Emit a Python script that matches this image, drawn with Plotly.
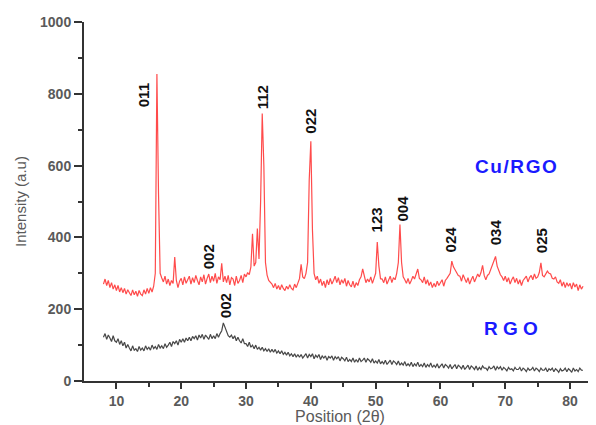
import numpy as np
import plotly.graph_objects as go

# Sampling grid of 2-theta positions (0.25 deg step, 8..82)
two_theta = np.arange(8.0, 82.001, 0.25)

# Cu/RGO intensity (one row per degree: x.00, x.25, x.50, x.75)
cu_rgo = [
    270, 284, 266, 280,   # 8
    260, 274, 256, 268,   # 9
    252, 266, 248, 260,   # 10
    246, 258, 242, 254,   # 11
    246, 238, 254, 240,   # 12
    250, 236, 252, 242,   # 13
    238, 254, 242, 258,   # 14
    244, 260, 248, 264,   # 15
    300, 855, 520, 300,   # 16
    287, 276, 292, 270,   # 17
    284, 266, 280, 272,   # 18
    345, 280, 260, 278,   # 19
    286, 268, 290, 272,   # 20
    282, 292, 270, 288,   # 21
    274, 294, 280, 268,   # 22
    290, 276, 296, 270,   # 23
    286, 298, 274, 292,   # 24
    278, 300, 272, 290,   # 25
    282, 328, 276, 292,   # 26
    274, 294, 268, 288,   # 27
    284, 266, 292, 272,   # 28
    280, 294, 274, 298,   # 29
    290, 302, 296, 318,   # 30
    410, 320, 330, 425,   # 31
    340, 500, 745, 600,   # 32
    330, 295, 280, 275,   # 33
    270, 260, 272, 256,   # 34
    266, 254, 268, 258,   # 35
    252, 264, 256, 268,   # 36
    258, 254, 270, 260,   # 37
    274, 285, 325, 290,   # 38
    285, 300, 330, 560,   # 39
    668, 420, 300, 282,   # 40
    292, 272, 284, 266,   # 41
    278, 260, 282, 268,   # 42
    286, 270, 280, 292,   # 43
    274, 288, 268, 282,   # 44
    272, 286, 264, 280,   # 45
    268, 262, 278, 260,   # 46
    274, 266, 282, 290,   # 47
    312, 292, 274, 284,   # 48
    276, 290, 272, 286,   # 49
    300, 387, 320, 285,   # 50
    284, 274, 290, 270,   # 51
    282, 292, 274, 288,   # 52
    282, 300, 330, 436,   # 53
    330, 290, 282, 272,   # 54
    286, 270, 280, 292,   # 55
    284, 300, 312, 286,   # 56
    282, 274, 290, 270,   # 57
    282, 266, 276, 260,   # 58
    272, 262, 278, 266,   # 59
    274, 282, 264, 280,   # 60
    286, 292, 300, 334,   # 61
    318, 310, 302, 294,   # 62
    292, 278, 296, 282,   # 63
    274, 288, 270, 282,   # 64
    292, 276, 286, 298,   # 65
    290, 302, 322, 294,   # 66
    282, 294, 298, 310,   # 67
    318, 332, 347, 320,   # 68
    306, 296, 290, 280,   # 69
    292, 276, 288, 270,   # 70
    282, 290, 274, 286,   # 71
    270, 282, 266, 280,   # 72
    286, 292, 276, 288,   # 73
    294, 282, 298, 286,   # 74
    290, 302, 329, 294,   # 75
    290, 300, 306, 300,   # 76
    298, 286, 284, 290,   # 77
    276, 272, 282, 264,   # 78
    276, 260, 274, 264,   # 79
    272, 256, 274, 262,   # 80
    270, 252, 268, 256,   # 81
    264,                  # 82
]

# RGO intensity
rgo = [
    122, 132, 116, 128,   # 8
    120, 110, 126, 112,   # 9
    108, 118, 102, 112,   # 10
    98, 108, 92, 102,     # 11
    92, 84, 98, 86,       # 12
    90, 82, 96, 86,       # 13
    92, 84, 98, 88,       # 14
    94, 86, 100, 90,      # 15
    96, 88, 102, 92,      # 16
    98, 90, 104, 94,      # 17
    100, 108, 96, 110,    # 18
    104, 112, 100, 116,   # 19
    108, 118, 108, 120,   # 20
    112, 122, 112, 124,   # 21
    118, 126, 114, 128,   # 22
    120, 130, 116, 128,   # 23
    122, 116, 130, 118,   # 24
    126, 118, 132, 122,   # 25
    132, 140, 162, 150,   # 26
    138, 126, 122, 128,   # 27
    118, 126, 112, 122,   # 28
    112, 106, 118, 104,   # 29
    104, 96, 108, 94,     # 30
    100, 90, 100, 88,     # 31
    94, 86, 94, 84,       # 32
    90, 82, 90, 80,       # 33
    88, 80, 88, 78,       # 34
    84, 76, 84, 74,       # 35
    80, 72, 80, 70,       # 36
    76, 68, 76, 66,       # 37
    74, 66, 74, 64,       # 38
    70, 76, 64, 74,       # 39
    68, 76, 62, 72,       # 40
    66, 74, 60, 70,       # 41
    64, 70, 58, 68,       # 42
    64, 70, 58, 68,       # 43
    62, 68, 56, 66,       # 44
    62, 56, 66, 54,       # 45
    60, 54, 64, 52,       # 46
    60, 52, 64, 54,       # 47
    58, 64, 52, 62,       # 48
    58, 52, 62, 50,       # 49
    56, 50, 60, 48,       # 50
    54, 48, 58, 46,       # 51
    52, 58, 46, 56,       # 52
    52, 46, 56, 44,       # 53
    50, 44, 54, 42,       # 54
    48, 42, 52, 40,       # 55
    48, 42, 52, 40,       # 56
    46, 40, 50, 38,       # 57
    46, 40, 50, 38,       # 58
    44, 38, 48, 36,       # 59
    42, 48, 36, 46,       # 60
    42, 36, 46, 34,       # 61
    40, 46, 34, 44,       # 62
    40, 34, 44, 32,       # 63
    38, 44, 32, 42,       # 64
    38, 32, 42, 30,       # 65
    38, 32, 42, 36,       # 66
    36, 30, 40, 34,       # 67
    36, 42, 30, 40,       # 68
    34, 40, 30, 38,       # 69
    34, 28, 38, 32,       # 70
    34, 28, 38, 32,       # 71
    32, 38, 28, 36,       # 72
    32, 26, 36, 30,       # 73
    32, 38, 28, 36,       # 74
    32, 26, 36, 30,       # 75
    30, 36, 26, 34,       # 76
    30, 36, 26, 34,       # 77
    30, 24, 34, 28,       # 78
    30, 36, 26, 34,       # 79
    30, 24, 36, 28,       # 80
    32, 26, 36, 30,       # 81
    30,                   # 82
]

# Peak (hkl) labels: text, 2-theta, intensity
peak_text = ["011", "002", "112", "022", "123", "004", "024", "034", "025", "002"]
peak_x = [14.1, 24.15, 32.6, 39.9, 50.1, 54.2, 61.5, 68.4, 75.5, 26.75]
peak_y = [796, 345, 790, 723, 448, 480, 395, 414, 392, 211]

series_names = ["Cu/RGO", "RGO"]
series_label_text = ["C\u200au\u200a/\u200aR\u200aG\u200aO", "R G O"]
series_label_x = [71.7, 70.9]
series_label_y = [598, 146]

assert len(cu_rgo) == len(two_theta) and len(rgo) == len(two_theta)

FONT = "Liberation Sans, Arial, sans-serif"
AXIS_GRAY = "#5a5a5a"

fig = go.Figure()
fig.add_trace(go.Scatter(x=two_theta, y=cu_rgo, mode="lines", name=series_names[0],
                         line=dict(color="rgba(255,30,30,0.8)", width=1.2)))
fig.add_trace(go.Scatter(x=two_theta, y=rgo, mode="lines", name=series_names[1],
                         line=dict(color="rgba(25,25,25,0.8)", width=1.2)))

for t, x, y in zip(peak_text, peak_x, peak_y):
    fig.add_annotation(x=x, y=y, text=f"<b>{t}</b>", textangle=-90, showarrow=False,
                       xanchor="center", yanchor="middle",
                       font=dict(family=FONT, size=15, color="#111111"))

for t, x, y in zip(series_label_text, series_label_x, series_label_y):
    fig.add_annotation(x=x, y=y, text=f"<b>{t}</b>", showarrow=False,
                       xanchor="center", yanchor="middle",
                       font=dict(family=FONT, size=19, color="#1a1aff"))

# The page body has an 8px margin, so the figure is placed at (8, 8)
fig.update_layout(
    width=588, height=417,
    margin=dict(l=76, r=0, t=14, b=44),
    paper_bgcolor="white", plot_bgcolor="white",
    showlegend=False,
    font=dict(family=FONT, color=AXIS_GRAY),
)
fig.update_xaxes(
    range=[5, 84], tickmode="array", tickvals=[10, 20, 30, 40, 50, 60, 70, 80],
    ticks="outside", ticklen=6, tickwidth=2, tickcolor="#333333",
    minor=dict(tickmode="array", tickvals=[15, 25, 35, 45, 55, 65, 75],
               ticks="outside", ticklen=4, tickwidth=2, tickcolor="#333333"),
    showline=True, linecolor="#333333", linewidth=2, showgrid=False, zeroline=False,
    tickfont=dict(family=FONT, size=14, color=AXIS_GRAY, weight="bold"),
    title=dict(text="Position (2\u03b8)", font=dict(family=FONT, size=16, color=AXIS_GRAY),
               standoff=6),
)
fig.update_yaxes(
    range=[0, 1000], tickmode="array", tickvals=[0, 200, 400, 600, 800, 1000],
    ticks="outside", ticklen=8, tickwidth=2, tickcolor="#333333",
    minor=dict(tickmode="array", tickvals=[100, 300, 500, 700, 900],
               ticks="outside", ticklen=4, tickwidth=2, tickcolor="#333333"),
    showline=True, linecolor="#333333", linewidth=2, showgrid=False, zeroline=False,
    tickfont=dict(family=FONT, size=14, color=AXIS_GRAY, weight="bold"),
    title=dict(text="Intensity (a.u)", font=dict(family=FONT, size=15, color=AXIS_GRAY),
               standoff=10),
)

fig.write_html("out.html")
